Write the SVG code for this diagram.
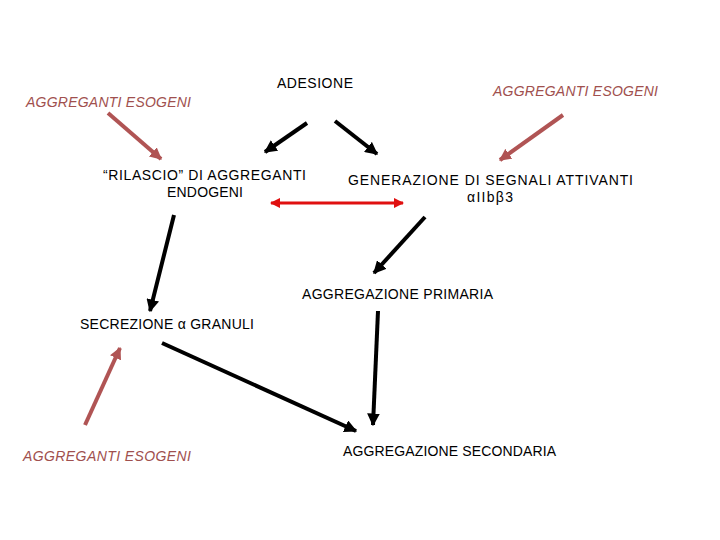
<svg xmlns="http://www.w3.org/2000/svg" width="720" height="540" viewBox="0 0 720 540">
<style>
.t{font-family:"Liberation Sans","DejaVu Sans",sans-serif;font-size:14px;fill:#000}
.x{font-family:"Liberation Sans","DejaVu Sans",sans-serif;font-size:14px;font-style:italic;fill:#a0504e}
.k{stroke:#000;stroke-width:4;fill:none}
.b{stroke:#b05454;stroke-width:4;fill:none}
.r{stroke:#e01010;stroke-width:3;fill:none}
</style>
<defs>
<marker id="hk" viewBox="0 0 10 10" refX="9" refY="5" markerWidth="3.2" markerHeight="3.2" orient="auto" markerUnits="strokeWidth"><path d="M0,0 L10,5 L0,10 z" fill="#000"/></marker>
<marker id="hb" viewBox="0 0 10 10" refX="9" refY="5" markerWidth="3" markerHeight="3" orient="auto" markerUnits="strokeWidth"><path d="M0,0 L10,5 L0,10 z" fill="#b05454"/></marker>
<marker id="hr" viewBox="0 0 10 10" refX="9" refY="5" markerWidth="3.5" markerHeight="3.5" orient="auto-start-reverse" markerUnits="strokeWidth"><path d="M0,0 L10,5 L0,10 z" fill="#e01010"/></marker>
</defs>
<rect width="720" height="540" fill="#fff"/>
<g id="adesione"><text class="t" x="315" y="88" text-anchor="middle" textLength="76">ADESIONE</text></g>
<g id="esogeni1"><text class="x" x="26" y="107" textLength="165">AGGREGANTI ESOGENI</text></g>
<g id="esogeni2"><text class="x" x="493" y="96" textLength="165">AGGREGANTI ESOGENI</text></g>
<g id="esogeni3"><text class="x" x="23" y="461" textLength="168">AGGREGANTI ESOGENI</text></g>
<g id="rilascio">
<text class="t" x="103" y="180" textLength="203">“RILASCIO” DI AGGREGANTI</text>
<text class="t" x="205" y="197" text-anchor="middle" textLength="76">ENDOGENI</text>
</g>
<g id="generazione">
<text class="t" x="348" y="185" textLength="285">GENERAZIONE DI SEGNALI ATTIVANTI</text>
<text class="t" x="467" y="202" textLength="46">αIIbβ3</text>
</g>
<g id="primaria"><text class="t" x="302" y="299" textLength="191">AGGREGAZIONE PRIMARIA</text></g>
<g id="secrezione"><text class="t" x="80" y="329" textLength="174">SECREZIONE α GRANULI</text></g>
<g id="secondaria"><text class="t" x="343" y="456" textLength="213">AGGREGAZIONE SECONDARIA</text></g>
<g id="connectors">
<line class="k" x1="307" y1="123" x2="265" y2="152" marker-end="url(#hk)"/>
<line class="k" x1="335" y1="121" x2="377" y2="154" marker-end="url(#hk)"/>
<line class="b" x1="108" y1="113" x2="161" y2="159" marker-end="url(#hb)"/>
<line class="b" x1="563" y1="115" x2="500" y2="160" marker-end="url(#hb)"/>
<line class="r" x1="271" y1="203" x2="403" y2="203" marker-start="url(#hr)" marker-end="url(#hr)"/>
<line class="k" x1="174" y1="215" x2="150" y2="311" marker-end="url(#hk)"/>
<line class="k" x1="425" y1="217" x2="374" y2="273" marker-end="url(#hk)"/>
<line class="k" x1="378" y1="311" x2="373" y2="425" marker-end="url(#hk)"/>
<line class="k" x1="162" y1="343" x2="356" y2="431" marker-end="url(#hk)"/>
<line class="b" x1="85" y1="425" x2="120" y2="348" marker-end="url(#hb)"/>
</g>
</svg>
